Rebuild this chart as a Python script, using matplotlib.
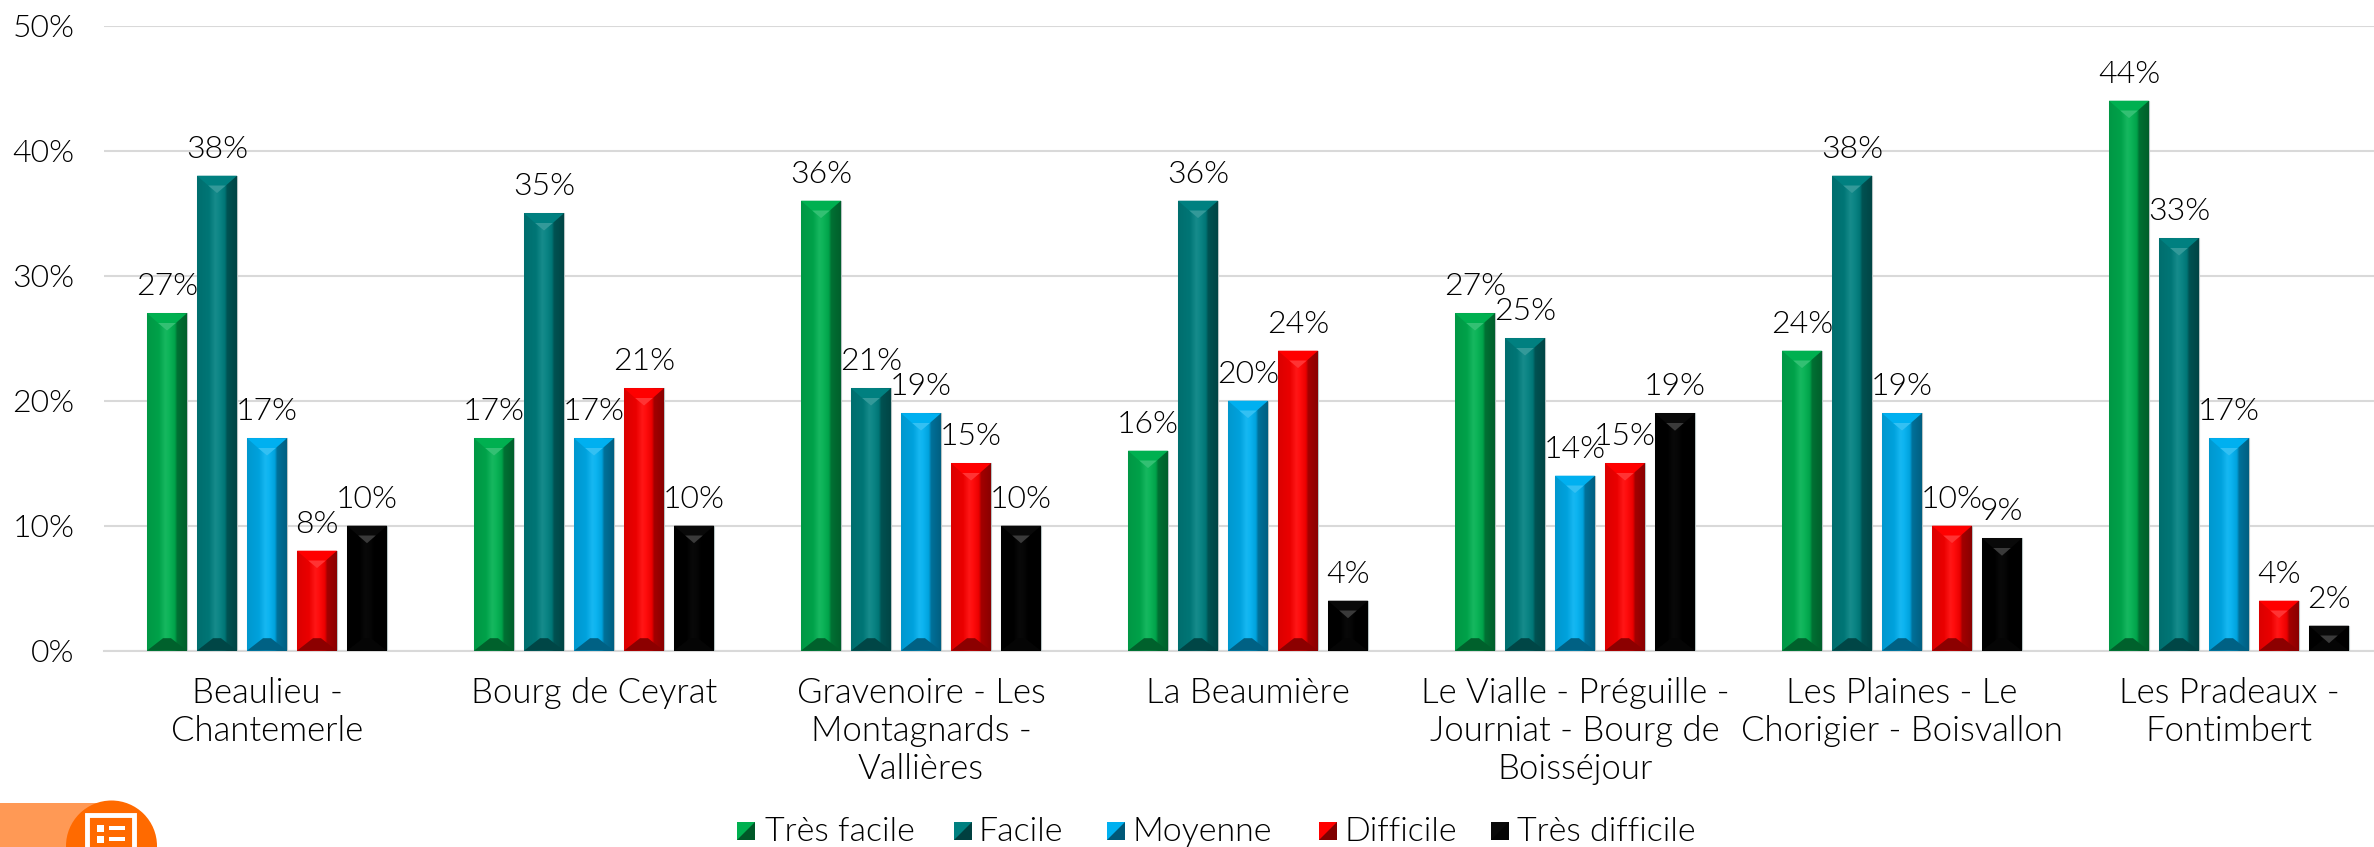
import matplotlib
matplotlib.use("Agg")
import matplotlib.pyplot as plt
import numpy as np
from matplotlib.colors import to_rgb
from matplotlib.patches import Circle, Polygon, Rectangle

plt.rcParams["font.family"] = ["Lato", "DejaVu Sans"]
plt.rcParams["font.weight"] = 300

categories = [
    "Beaulieu -\nChantemerle",
    "Bourg de Ceyrat",
    "Gravenoire - Les\nMontagnards -\nVallières",
    "La Beaumière",
    "Le Vialle - Préguille -\nJourniat - Bourg de\nBoisséjour",
    "Les Plaines - Le\nChorigier - Boisvallon",
    "Les Pradeaux -\nFontimbert",
]
series_names = ["Très facile", "Facile", "Moyenne", "Difficile", "Très difficile"]
tres_facile = [27, 17, 36, 16, 27, 24, 44]
facile = [38, 35, 21, 36, 25, 38, 33]
moyenne = [17, 17, 19, 20, 14, 19, 17]
difficile = [8, 21, 15, 24, 15, 10, 4]
tres_difficile = [10, 10, 10, 4, 19, 9, 2]
y_ticks = [0, 10, 20, 30, 40, 50]

series_values = [tres_facile, facile, moyenne, difficile, tres_difficile]
colors = ["#00B050", "#008080", "#00B0F0", "#FF0000", "#000000"]

W, H = 2374, 847
GROUP_PX = 327.0
BAR_W = 40 / GROUP_PX
BAR_STEP = 50 / GROUP_PX
TOP_BEVEL = 1.4
BOTTOM_BEVEL = 1.0
FONT = 23
TEXT_FONT = 25


def shade(color, factor):
    rgb = np.array(to_rgb(color))
    if color == "#000000":
        rgb = rgb + 0.035
    if factor > 1:
        return tuple(rgb + (1 - rgb) * (factor - 1))
    return tuple(rgb * factor)


def bar_gradient(color):
    stops = [0.0, 0.3, 0.46, 0.55, 0.7, 0.76, 1.0]
    factors = [0.86, 0.92, 1.09, 1.05, 0.92, 0.64, 0.54]
    if color == "#000000":
        factors = [0.0, 0.0, 1.0, 0.8, 0.0, 0.0, 0.0]
    xs = np.linspace(0, 1, 80)
    rgb = np.array([shade(color, f) for f in factors])
    return np.dstack([np.interp(xs, stops, rgb[:, c]) for c in range(3)])


fig = plt.figure(figsize=(W / 100, H / 100), dpi=100)
left, right, bottom, top = 103.5, W, H - 650.7, H - 25.7
ax = fig.add_axes([left / W, bottom / H, (right - left) / W, (top - bottom) / H])

x = np.arange(len(categories))
for i, (name, values, color) in enumerate(zip(series_names, series_values, colors)):
    bars = ax.bar(x + (i - 2) * BAR_STEP, values, BAR_W, color=color,
                  edgecolor="#B8C4C4", linewidth=0.8, zorder=3, label=name)
    gradient = bar_gradient(color)
    for bar, value in zip(bars, values):
        x0, w = bar.get_x(), bar.get_width()
        mid = x0 + w / 2
        image = ax.imshow(gradient, extent=[x0, x0 + w, 0, value], aspect="auto", zorder=3.1)
        image.set_clip_path(bar)
        # bevel at the top and at the foot of the bar
        ax.add_patch(Polygon([[x0, value], [x0 + w, value], [mid, value - TOP_BEVEL]],
                             color=shade(color, 1.0), lw=0, zorder=3.2))
        ax.add_patch(Polygon([[mid - w * 0.22, value - TOP_BEVEL * 0.56],
                              [mid + w * 0.22, value - TOP_BEVEL * 0.56],
                              [mid, value - TOP_BEVEL]],
                             color=shade(color, 1.2), lw=0, zorder=3.3))
        ax.add_patch(Polygon([[x0, 0], [x0 + w, 0], [mid + w * 0.1, BOTTOM_BEVEL],
                              [mid - w * 0.1, BOTTOM_BEVEL]],
                             color=shade(color, 0.55), lw=0, zorder=3.2))
        ax.annotate(f"{value}%", (mid, value), xytext=(0, 13), textcoords="offset points",
                    ha="center", va="baseline", fontsize=FONT, color="black", zorder=5)

ax.set_xlim(-(267 - left) / GROUP_PX, (right - 267) / GROUP_PX)
ax.set_ylim(0, 50)
ax.set_yticks(y_ticks)
ax.set_yticklabels([f"{t}%" for t in y_ticks], fontsize=FONT, color="black")
ax.set_xticks(x)
ax.set_xticklabels(categories, fontsize=TEXT_FONT, color="black", linespacing=1.22)
ax.tick_params(axis="y", length=0, pad=21)
ax.tick_params(axis="x", length=0, pad=19)
ax.grid(axis="y", color="#D9D9D9", linewidth=1.5, zorder=0)
ax.set_axisbelow(True)
for spine in ["top", "right", "left"]:
    ax.spines[spine].set_visible(False)
ax.spines["bottom"].set_color("#D9D9D9")
ax.spines["bottom"].set_linewidth(1.5)

# overlay in pixel coordinates for the legend and the corner badge
overlay = fig.add_axes([0, 0, 1, 1])
overlay.set_xlim(0, W)
overlay.set_ylim(H, 0)
overlay.axis("off")

legend_marker_x = [737, 954, 1107, 1319, 1491]
legend_text_x = [765, 978, 1132, 1344, 1517]
for mx, tx, name, color in zip(legend_marker_x, legend_text_x, series_names, colors):
    overlay.add_patch(Rectangle((mx, 822), 18, 18, color=shade(color, 1.0), lw=0))
    overlay.add_patch(Polygon([[mx, 840], [mx + 18, 840], [mx + 18, 822]],
                              color=shade(color, 0.5), lw=0))
    overlay.text(tx, 841, name, fontsize=24.5, color="black", ha="left", va="baseline",
                 clip_on=False)

overlay.add_patch(Rectangle((0, 803), 112, 44, color="#FF9955", lw=0))
overlay.add_patch(Circle((111.5, 846), 45.5, color="#FF6A00", lw=0))
overlay.add_patch(Rectangle((87, 815), 47, 40, facecolor="#FF6A00", edgecolor="white", lw=3.5))
for y_row in [825, 836]:
    overlay.add_patch(Rectangle((97, y_row), 7, 7, color="white", lw=0))
    overlay.add_patch(Rectangle((109, y_row + 1), 16, 4, color="white", lw=0))

fig.savefig("out.png", dpi=100)
